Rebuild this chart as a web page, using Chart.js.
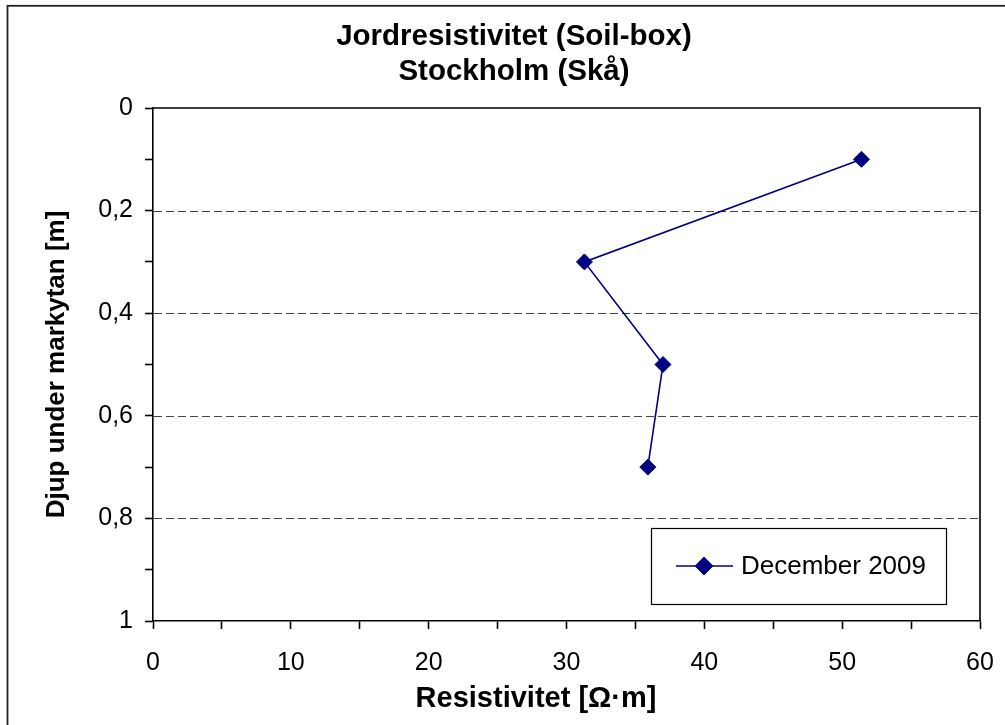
<!DOCTYPE html>
<html>
<head>
<meta charset="utf-8">
<title>Jordresistivitet (Soil-box) – Stockholm (Skå)</title>
<script src="https://cdn.jsdelivr.net/npm/chart.js@4.4.1/dist/chart.umd.min.js"></script>
<style>
  html, body { margin: 0; padding: 0; background: #ffffff; }
  #wrap { width: 1005px; height: 725px; position: relative; }
</style>
</head>
<body>
<div id="wrap"><canvas id="c" width="1005" height="725"></canvas></div>
<script>
// Measured soil resistivity against depth below ground surface
const seriesName = 'December 2009';
const depths = [0.1, 0.3, 0.5, 0.7];              // m
const resistivity = [51.4, 31.3, 37.0, 35.9];     // Ω·m
const titleLines = ['Jordresistivitet (Soil-box)', 'Stockholm (Skå)'];
const xTitle = 'Resistivitet [Ω·m]';
const yTitle = 'Djup under markytan [m]';
const dashedDepths = [0.2, 0.4, 0.6, 0.8];

const FONT = '"Liberation Sans", Arial, Helvetica, sans-serif';
const NAVY = '#000080';

const points = depths.map((d, i) => ({ x: resistivity[i], y: d }));

// Frame, titles, dashed depth lines, plot border and legend
const decorations = {
  id: 'decorations',
  beforeDatasetsDraw(chart) {
    const { ctx, chartArea: a, scales } = chart;
    ctx.save();
    ctx.strokeStyle = '#444';
    ctx.lineWidth = 1.2;
    ctx.setLineDash([8, 4]);
    dashedDepths.forEach(v => {
      const y = Math.round(scales.y.getPixelForValue(v)) + 0.5;
      ctx.beginPath();
      ctx.moveTo(a.left + 1, y);
      ctx.lineTo(a.right, y);
      ctx.stroke();
    });
    ctx.setLineDash([]);
    ctx.strokeStyle = '#000';
    ctx.lineWidth = 1.6;
    ctx.beginPath();
    ctx.moveTo(a.left, a.top);
    ctx.lineTo(a.right, a.top);
    ctx.lineTo(a.right, a.bottom);
    ctx.stroke();
    ctx.restore();
  },
  afterDraw(chart) {
    const { ctx, chartArea: a } = chart;
    ctx.save();
    // outer frame
    ctx.strokeStyle = '#222';
    ctx.lineWidth = 1.8;
    ctx.strokeRect(7.5, 5.8, 1100, 800);

    // chart title
    ctx.fillStyle = '#000';
    ctx.textAlign = 'center';
    ctx.textBaseline = 'middle';
    ctx.font = 'bold 29.5px ' + FONT;
    ctx.fillText(titleLines[0], 514, 37);
    ctx.fillText(titleLines[1], 514, 72);

    // axis titles
    ctx.font = 'bold 29px ' + FONT;
    ctx.fillText(xTitle, 536, 699);
    ctx.save();
    ctx.font = 'bold 26px ' + FONT;
    ctx.translate(57, (a.top + a.bottom) / 2);
    ctx.rotate(-Math.PI / 2);
    ctx.fillText(yTitle, 0, 0);
    ctx.restore();

    // legend
    const box = { l: 651, t: 528, r: 946, b: 604 };
    ctx.fillStyle = '#fff';
    ctx.fillRect(box.l, box.t, box.r - box.l, box.b - box.t);
    ctx.strokeStyle = '#000';
    ctx.lineWidth = 1.2;
    ctx.strokeRect(box.l + 0.5, box.t + 0.5, box.r - box.l, box.b - box.t);
    const ly = 566;
    const ds = chart.data.datasets[0];
    ctx.strokeStyle = ds.borderColor;
    ctx.lineWidth = ds.borderWidth;
    ctx.beginPath();
    ctx.moveTo(676, ly);
    ctx.lineTo(733, ly);
    ctx.stroke();
    Chart.helpers.drawPoint(ctx, {
      pointStyle: ds.pointStyle,
      radius: ds.pointRadius,
      borderWidth: ds.pointBorderWidth,
      rotation: 0
    }, 704, ly);
    ctx.fillStyle = ds.pointBackgroundColor;
    ctx.strokeStyle = ds.pointBorderColor;
    ctx.fill();
    ctx.stroke();
    ctx.fillStyle = '#000';
    ctx.textAlign = 'left';
    ctx.textBaseline = 'middle';
    ctx.font = '26px ' + FONT;
    ctx.fillText(ds.label, 741, ly + 1);
    ctx.restore();
  }
};

new Chart(document.getElementById('c'), {
  type: 'scatter',
  data: {
    datasets: [{
      label: seriesName,
      data: points,
      showLine: true,
      borderColor: NAVY,
      borderWidth: 1.6,
      pointStyle: 'rectRot',
      pointRadius: 8,
      pointHoverRadius: 8,
      pointBackgroundColor: NAVY,
      pointBorderColor: NAVY,
      pointBorderWidth: 1,
      tension: 0
    }]
  },
  options: {
    responsive: false,
    animation: false,
    events: [],
    layout: { padding: { top: 108, right: 25, left: 0, bottom: 0 } },
    plugins: {
      legend: { display: false },
      title: { display: false },
      tooltip: { enabled: false }
    },
    scales: {
      x: {
        type: 'linear',
        min: 0,
        max: 60,
        afterFit(scale) {
          scale.height = 104;
          scale.paddingLeft = 0;
          scale.paddingRight = 0;
        },
        border: { display: true, color: '#000', width: 1.6 },
        grid: { drawOnChartArea: false, drawTicks: true, tickLength: 8, tickColor: '#000', tickWidth: 1.6 },
        ticks: {
          stepSize: 5,
          autoSkip: false,
          maxRotation: 0,
          padding: 19,
          color: '#000',
          font: { family: FONT, size: 25 },
          callback: v => (Math.round(v) % 10 === 0 ? String(Math.round(v)) : '')
        }
      },
      y: {
        type: 'linear',
        reverse: true,
        min: 0,
        max: 1,
        afterFit(scale) { scale.width = 153; },
        border: { display: true, color: '#000', width: 1.6 },
        grid: { drawOnChartArea: false, drawTicks: true, tickLength: 8, tickColor: '#000', tickWidth: 1.6 },
        ticks: {
          stepSize: 0.1,
          autoSkip: false,
          padding: 12,
          color: '#000',
          font: { family: FONT, size: 25 },
          callback: v => {
            const k = Math.round(v * 10);
            return k % 2 === 0 ? String(k / 10).replace('.', ',') : '';
          }
        }
      }
    }
  },
  plugins: [decorations]
});
</script>
</body>
</html>
